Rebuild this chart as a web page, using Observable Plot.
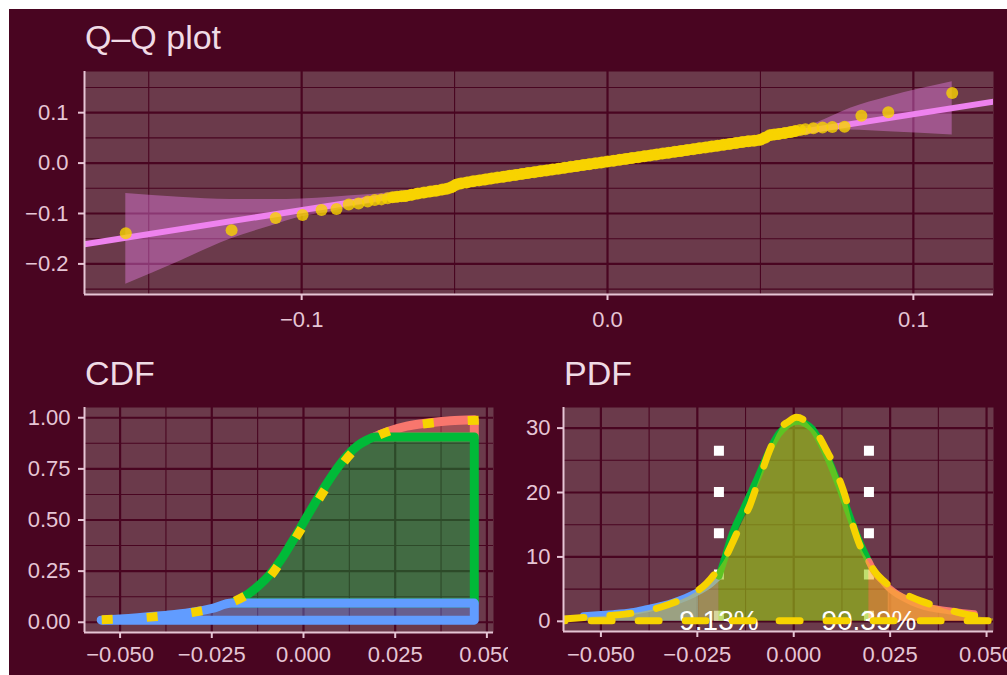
<!DOCTYPE html>
<html><head><meta charset="utf-8">
<script src="https://cdn.jsdelivr.net/npm/d3@7"></script>
<script src="https://cdn.jsdelivr.net/npm/@observablehq/plot@0.6"></script>
<style>
html,body{margin:0;padding:0;background:#ffffff;}
body{position:relative;width:1007px;height:675px;overflow:hidden;font-family:"Liberation Sans",Arial,sans-serif;}
#bg{position:absolute;left:9px;top:9px;width:998px;height:666px;background:#490521;}
.ttl{position:absolute;color:#f0dbe5;font-size:34px;line-height:34px;white-space:nowrap;}
.box{position:absolute;overflow:hidden;}
.box svg{display:block;}
</style></head>
<body>
<div id="bg"></div>
<div class="ttl" style="left:85px;top:20px">Q–Q plot</div>
<div class="ttl" style="left:85px;top:356px">CDF</div>
<div class="ttl" style="left:564px;top:356px">PDF</div>
<div class="box" id="qq" style="left:9px;top:55px;width:998px;height:290px"></div>
<div class="box" id="cdf" style="left:9px;top:395px;width:499px;height:280px"></div>
<div class="box" id="pdf" style="left:508px;top:395px;width:499px;height:280px"></div>
<script>
// ---------------- Q-Q data ----------------
const qqTheo = [
-0.1575,-0.1229,-0.1085,-0.0997,-0.0935,-0.0886,-0.0846,-0.0814,-0.0784,-0.0761,-0.0739,-0.0719,-0.0703,-0.0688,-0.0674,
-0.0660,-0.0640,-0.0620,-0.0600,-0.0580,-0.0560,-0.0540,-0.0525,-0.0510,-0.0495,-0.0480,-0.0460,-0.0440,-0.0420,-0.0400,
-0.0380,-0.0360,-0.0340,-0.0320,-0.0300,-0.0280,-0.0260,-0.0240,-0.0220,-0.0200,-0.0180,-0.0160,-0.0140,-0.0120,-0.0100,
-0.0080,-0.0060,-0.0040,-0.0020,0.0000,0.0020,0.0040,0.0060,0.0080,0.0100,0.0120,0.0140,0.0160,0.0180,0.0200,
0.0220,0.0240,0.0260,0.0280,0.0300,0.0320,0.0340,0.0360,0.0380,0.0400,0.0420,0.0440,0.0460,0.0480,0.0500,
0.0515,0.0530,0.0545,0.0560,0.0580,0.0598,0.0614,0.0630,0.0647,0.0673,0.0703,0.0735,0.0775,0.0830,0.0918,0.1127];
const qqSample = [
-0.139,-0.133,-0.109,-0.103,-0.093,-0.091,-0.082,-0.080,-0.076,-0.073,-0.072,-0.070,-0.068,-0.067,-0.066,
-0.0652,-0.0628,-0.0604,-0.0585,-0.0566,-0.0547,-0.0526,-0.0508,-0.0478,-0.0428,-0.0405,-0.0385,-0.0362,-0.0343,-0.0326,
-0.0305,-0.0288,-0.0270,-0.0250,-0.0234,-0.0215,-0.0198,-0.0180,-0.0163,-0.0145,-0.0128,-0.0110,-0.0093,-0.0075,-0.0058,
-0.0040,-0.0022,-0.0005,0.0012,0.0030,0.0047,0.0065,0.0083,0.0100,0.0118,0.0135,0.0153,0.0171,0.0188,0.0205,
0.0223,0.0241,0.0258,0.0276,0.0293,0.0311,0.0328,0.0346,0.0364,0.0381,0.0399,0.0416,0.0432,0.0445,0.0465,
0.0505,0.0550,0.0565,0.0578,0.0598,0.0615,0.0636,0.0655,0.0672,0.0690,0.0705,0.0718,0.0722,0.0940,0.1010,0.1390];
const qqDenseRange = [-0.0703, 0.0614];   // where the sample points overlap into a solid band
const qqBandX  = [-0.1575,-0.1400,-0.1230,-0.1100,-0.1000,-0.0900,-0.0838,-0.0760,-0.0700,-0.0500,0.0000,0.0500,0.0620,0.0685,0.0794,0.0919,0.1127];
const qqBandLo = [-0.2406,-0.1950,-0.1500,-0.1250,-0.1067,-0.0960,-0.0870,-0.0790,-0.0720,-0.0510,-0.0030,0.0440,0.0590,0.0640,0.0656,0.0622,0.0557];
const qqBandHi = [-0.0603,-0.0680,-0.0722,-0.0722,-0.0710,-0.0680,-0.0650,-0.0620,-0.0580,-0.0400,0.0070,0.0500,0.0670,0.0800,0.1087,0.1318,0.1616];
const qqLineX = [-0.1710, 0.1262];
const qqLineY = [-0.1610, 0.1220];
const qqXTicks = [-0.1, 0, 0.1];
const qqYTicks = [-0.2, -0.1, 0, 0.1];
const qqXMinor = [-0.15, -0.05, 0.05];
const qqYMinor = [-0.25, -0.15, -0.05, 0.05, 0.15];

// ---------------- CDF data ----------------
const cdfX = [-0.0550,-0.0500,-0.0450,-0.0415,-0.0350,-0.0297,-0.0250,-0.0194,-0.0150,-0.0120,-0.0090,-0.0060,-0.0034,-0.0010,0.0010,0.0033,0.0060,0.0092,0.0120,0.0150,0.0174,0.0195,0.0240,0.0283,0.0340,0.0401,0.0467];
const cdfY = [0.008,0.013,0.020,0.026,0.036,0.048,0.064,0.0913,0.135,0.178,0.232,0.303,0.378,0.450,0.512,0.582,0.662,0.748,0.812,0.862,0.888,0.9039,0.935,0.956,0.972,0.983,0.988];
const fitCdfX = [-0.0550,-0.0500,-0.0450,-0.0400,-0.0350,-0.0300,-0.0250,-0.0200,-0.0150,-0.0100,-0.0050,0.0000,0.0050,0.0100,0.0150,0.0200,0.0250,0.0300,0.0350,0.0400,0.0450,0.0500,0.0530];
const fitCdfY = [0.012,0.016,0.021,0.028,0.037,0.049,0.066,0.094,0.138,0.205,0.330,0.475,0.625,0.760,0.860,0.910,0.944,0.962,0.974,0.981,0.986,0.989,0.990];
const quantX = [-0.0194, 0.0195];
const quantP = [0.0913, 0.9039];
const cdfXTicks = [-0.05, -0.025, 0, 0.025, 0.05];
const cdfXMinor = [-0.0375, -0.0125, 0.0125, 0.0375];
const cdfYTicks = [0, 0.25, 0.5, 0.75, 1];
const cdfYMinor = [0.125, 0.375, 0.625, 0.875];

// ---------------- PDF data ----------------
const pdfX = [-0.0545,-0.0500,-0.0468,-0.0420,-0.0381,-0.0340,-0.0312,-0.0280,-0.0247,-0.0220,-0.0194,-0.0180,-0.0164,-0.0130,-0.0095,-0.0061,-0.0039,-0.0020,-0.0004,0.0013,0.0030,0.0048,0.0082,0.0117,0.0151,0.0175,0.0195,0.0210,0.0230,0.0245,0.0255,0.0280,0.0307,0.0340,0.0377,0.0420,0.0468];
const pdfY = [0.88,1.05,1.19,1.50,1.96,2.50,3.00,3.70,4.65,5.60,7.00,9.60,12.80,17.50,22.10,26.80,29.10,30.30,30.90,31.05,30.70,29.90,26.20,21.10,15.40,11.80,9.30,7.60,6.30,5.30,4.80,3.80,3.00,2.30,1.86,1.50,1.19];
const tailEdgeX = [-0.0247, 0.0245];      // edge of the outer (darker) tail shading
const fitPdfX = [-0.0597,-0.0560,-0.0520,-0.0480,-0.0437,-0.0400,-0.0360,-0.0325,-0.0290,-0.0255,-0.0225,-0.0195,-0.0175,-0.0160,-0.0135,-0.0112,-0.0095,-0.0078,-0.0065,-0.0052,-0.0035,-0.0013,0.0008,0.0025,0.0045,0.0065,0.0085,0.0104,0.0120,0.0134,0.0156,0.0175,0.0195,0.0212,0.0240,0.0265,0.0294,0.0330,0.0365,0.0403,0.0450,0.0490,0.0518];
const fitPdfY = [0.30,0.45,0.62,0.82,1.04,1.35,1.85,2.50,3.30,4.40,5.80,8.00,9.90,11.80,15.10,18.00,20.90,23.70,25.90,27.80,29.80,30.90,31.60,31.30,30.20,28.80,26.60,24.40,21.90,19.50,14.60,11.40,9.20,7.60,5.90,4.80,4.00,3.10,2.40,1.70,1.00,0.60,0.40];
const pdfYTicks = [0, 10, 20, 30];
const pdfYMinor = [5, 15, 25];

// ---------------- styling ----------------
const GOLD="#f7d300", BG="#490521", PANEL="#6b3a4b", AXIS="#e6c5d5";
const RED="#f8766d", GREEN="#00ba38", BLUE="#619cff", VIOLET="#ee82ee";
const FONT='"Liberation Sans", Arial, sans-serif';

function panel(o){
  const svg = Plot.plot({
    width:o.w, height:o.h, marginLeft:o.ml, marginRight:o.mr, marginTop:o.mt, marginBottom:o.mb,
    style:{background:"transparent", color:AXIS, fontFamily:FONT, fontSize:"22px", overflow:"hidden"},
    x:{domain:o.xd, ticks:o.xt, tickFormat:o.xf, tickSize:6, tickPadding:o.xp, label:null},
    y:{domain:o.yd, ticks:o.yt, tickFormat:o.yf, tickSize:6, tickPadding:o.yp, label:null},
    marks:[
      Plot.frame({fill:PANEL, stroke:"none"}),
      Plot.ruleX(o.xm, {stroke:BG, strokeWidth:1.1}),
      Plot.ruleY(o.ym, {stroke:BG, strokeWidth:1.1}),
      Plot.ruleX(o.xt, {stroke:BG, strokeWidth:2.2}),
      Plot.ruleY(o.yt, {stroke:BG, strokeWidth:2.2}),
      ...o.marks,
      Plot.ruleY([o.yd[0]], {stroke:AXIS, strokeWidth:2}),
      Plot.ruleX([o.xd[0]], {stroke:AXIS, strokeWidth:2})
    ]
  });
  svg.querySelectorAll('[aria-label$="tick"] path, [aria-label$="axis"] line').forEach(e=>e.setAttribute("stroke-width","2"));
  return svg;
}

// Q-Q
const qq = qqTheo.map((x,i)=>({x, y:qqSample[i]}));
const qqDense = qq.filter(d=>d.x>=qqDenseRange[0] && d.x<=qqDenseRange[1]);
const qqBand = qqBandX.map((x,i)=>({x, lo:qqBandLo[i], hi:qqBandHi[i]}));
const qqLine = qqLineX.map((x,i)=>({x, y:qqLineY[i]}));
document.getElementById("qq").append(panel({
  w:998, h:290, ml:75, mr:14, mt:16, mb:51,
  xd:[-0.1710, 0.1262], yd:[-0.2607, 0.1817],
  xt:qqXTicks, yt:qqYTicks, xm:qqXMinor, ym:qqYMinor,
  xf:d3.format(".1f"), yf:d3.format(".1f"), xp:11, yp:10,
  marks:[
    Plot.areaY(qqBand, {x:"x", y1:"lo", y2:"hi", fill:VIOLET, fillOpacity:0.4, curve:"monotone-x", clip:true}),
    Plot.line(qqLine, {x:"x", y:"y", stroke:VIOLET, strokeWidth:6, clip:true}),
    Plot.line(qqDense, {x:"x", y:"y", stroke:GOLD, strokeWidth:11, curve:"monotone-x", clip:true}),
    Plot.dot(qq, {x:"x", y:"y", r:6, fill:GOLD, fillOpacity:0.8, clip:true})
  ]
}));

// CDF
const cdf = cdfX.map((x,i)=>({x, y:cdfY[i]}));
const xMax = cdfX[cdfX.length-1];
const base = cdfY[0];
const blueReg = cdf.filter(d=>d.x<=quantX[0]).map(d=>({x:d.x, y1:base, y2:d.y})).concat([{x:xMax, y1:base, y2:quantP[0]}]);
const greenReg = cdf.filter(d=>d.x>=quantX[0] && d.x<=quantX[1]).map(d=>({x:d.x, y1:quantP[0], y2:d.y})).concat([{x:xMax, y1:quantP[0], y2:quantP[1]}]);
const redReg = cdf.filter(d=>d.x>=quantX[1]).map(d=>({x:d.x, y1:quantP[1], y2:d.y}));
const fitCdf = fitCdfX.map((x,i)=>({x, y:fitCdfY[i]}));
const regStyle = (c)=>({x:"x", y1:"y1", y2:"y2", fill:c, fillOpacity:0.38, stroke:c, strokeWidth:9, strokeLinejoin:"round", curve:"monotone-x", clip:true});
document.getElementById("cdf").append(panel({
  w:499, h:280, ml:75, mr:15, mt:12, mb:43,
  xd:[-0.0597, 0.0518], yd:[-0.05, 1.05],
  xt:cdfXTicks, yt:cdfYTicks, xm:cdfXMinor, ym:cdfYMinor,
  xf:d3.format(".3f"), yf:d3.format(".2f"), xp:8, yp:8,
  marks:[
    Plot.areaY(redReg, regStyle(RED)),
    Plot.areaY(greenReg, regStyle(GREEN)),
    Plot.areaY(blueReg, regStyle(BLUE)),
    Plot.line(fitCdf, {x:"x", y:"y", stroke:GOLD, strokeWidth:9, strokeDasharray:"11,34", strokeLinecap:"butt", curve:"monotone-x", clip:true})
  ]
}));

// PDF
const pdf = pdfX.map((x,i)=>({x, y:pdfY[i]}));
const pdfL = pdf.filter(d=>d.x<=quantX[0]);
const pdfLL = pdf.filter(d=>d.x<=tailEdgeX[0]);
const pdfM = pdf.filter(d=>d.x>=quantX[0] && d.x<=quantX[1]);
const pdfR = pdf.filter(d=>d.x>=quantX[1]);
const pdfRR = pdf.filter(d=>d.x>=tailEdgeX[1]);
const fitPdf = fitPdfX.map((x,i)=>({x, y:fitPdfY[i]}));
const qLab = quantX.map((q,i)=>({q, label:d3.format(".2%")(quantP[i])}));
const fillA = (data, c, op)=>Plot.areaY(data, {x:"x", y1:0, y2:"y", fill:c, fillOpacity:op, curve:"monotone-x", clip:true});
document.getElementById("pdf").append(panel({
  w:499, h:280, ml:55, mr:14, mt:12, mb:44,
  xd:[-0.0597, 0.0518], yd:[-1.58, 33.2],
  xt:cdfXTicks, yt:pdfYTicks, xm:cdfXMinor, ym:pdfYMinor,
  xf:d3.format(".3f"), yf:d3.format("d"), xp:9, yp:7,
  marks:[
    Plot.ruleX(quantX, {x:d=>d, y1:0, y2:31, stroke:"white", strokeWidth:10, strokeDasharray:"10,31.25"}),
    fillA(pdfL, BLUE, 0.38),
    fillA(pdfLL, BLUE, 0.6),
    fillA(pdfM, GREEN, 0.38),
    fillA(pdfR, RED, 0.38),
    fillA(pdfRR, RED, 0.6),
    Plot.line(pdfL, {x:"x", y:"y", stroke:BLUE, strokeWidth:7, curve:"monotone-x", clip:true}),
    Plot.line(pdfM, {x:"x", y:"y", stroke:GREEN, strokeWidth:7, curve:"monotone-x", clip:true}),
    Plot.line(pdfR, {x:"x", y:"y", stroke:RED, strokeWidth:7, curve:"monotone-x", clip:true}),
    Plot.areaY(fitPdf, {x:"x", y1:0, y2:"y", fill:GOLD, fillOpacity:0.38, curve:"monotone-x", clip:true}),
    Plot.text(qLab, {x:"q", y:0, text:"label", fill:"white", fontSize:28, clip:true}),
    Plot.areaY(fitPdf, {x:"x", y1:0, y2:"y", fill:"none", stroke:GOLD, strokeWidth:7, strokeDasharray:"21,26", curve:"monotone-x", clip:true})
  ]
}));
</script>
</body></html>
